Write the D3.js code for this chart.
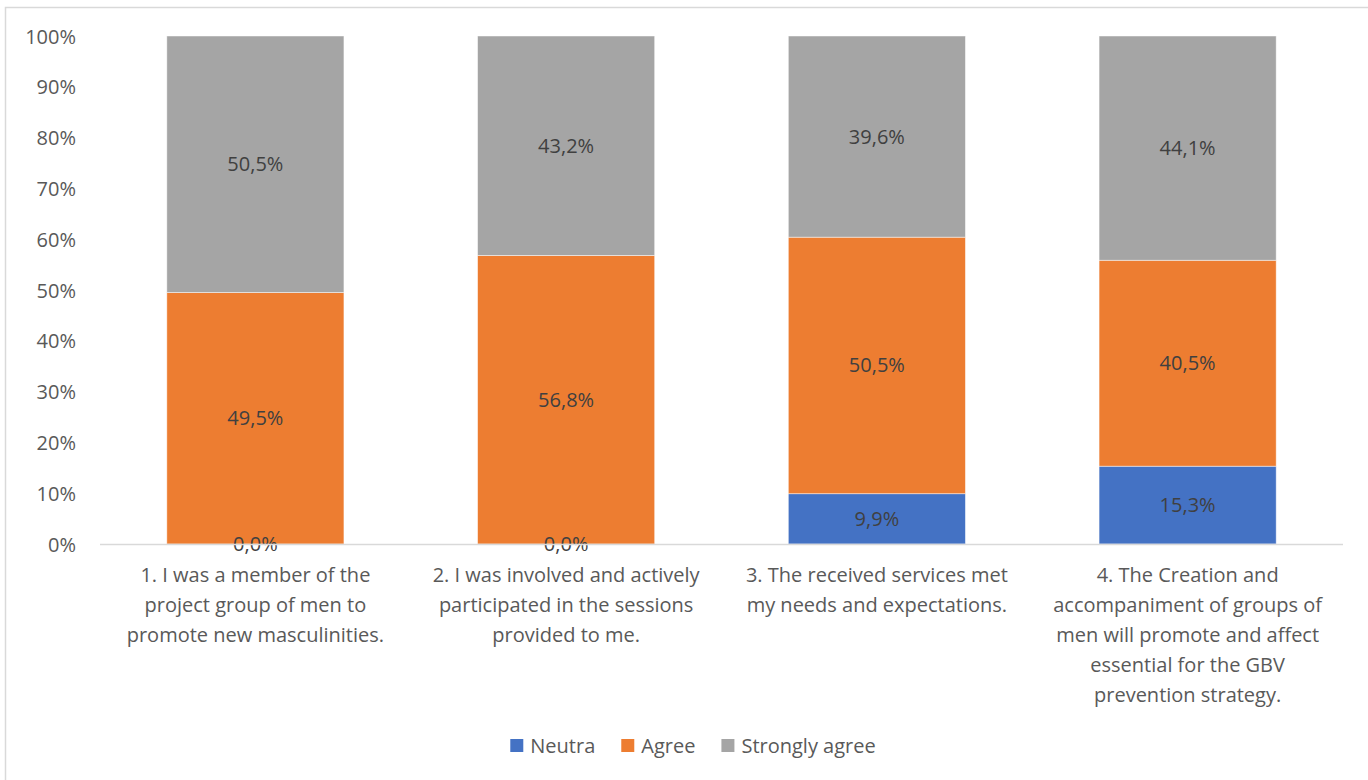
<!DOCTYPE html>
<html><head><meta charset="utf-8">
<script src="https://cdn.jsdelivr.net/npm/d3@7"></script>
<style>html,body{margin:0;padding:0;background:#fff;}svg{display:block;}</style>
</head><body>
<svg id="c" width="1368" height="780"></svg>
<script>
const categories = [
  "1. I was a member of the\nproject group of men to\npromote new masculinities.",
  "2. I was involved and actively\nparticipated in the sessions\nprovided to me.",
  "3. The received services met\nmy needs and expectations.",
  "4. The Creation and\naccompaniment of groups of\nmen will promote and affect\nessential for the GBV\nprevention strategy."
];
const seriesNames = ["Neutra", "Agree", "Strongly agree"];
const neutra = [0.0, 0.0, 9.9, 15.3];
const agree = [49.5, 56.8, 50.5, 40.5];
const stronglyAgree = [50.5, 43.2, 39.6, 44.1];
const colors = ["#4472c4", "#ed7d31", "#a5a5a5"];
const yTicks = [0, 10, 20, 30, 40, 50, 60, 70, 80, 90, 100];

const FONT = "'Open Sans', Lato, sans-serif";
const FS = 20;
const svg = d3.select("#c");

// chart border
svg.append("rect").attr("x", 5.5).attr("y", 7.5).attr("width", 1400).attr("height", 800)
  .attr("fill", "none").attr("stroke", "#d9d9d9").attr("stroke-width", 1.5);

const plot = {left: 100, right: 1343, top: 36, bottom: 544};
const x = d3.scaleBand().domain(d3.range(categories.length)).range([plot.left, plot.right]).paddingInner(0.43).paddingOuter(0.215);
const y = d3.scaleLinear().domain([0, 1]).range([plot.bottom, plot.top]);

const table = categories.map((c, i) => ({i, Neutra: neutra[i], Agree: agree[i], "Strongly agree": stronglyAgree[i]}));
const stack = d3.stack().keys(seriesNames).offset(d3.stackOffsetExpand);
const layers = stack(table);

// y axis
const yAxis = d3.axisLeft(y).tickValues(yTicks.map(t => t / 100)).tickFormat(d => Math.round(d * 100) + "%").tickSize(0).tickPadding(0);
const ya = svg.append("g").attr("transform", `translate(${76},0)`).call(yAxis);
ya.select(".domain").remove();
ya.selectAll("text").attr("font-family", FONT).attr("font-size", FS).attr("fill", "#595959").attr("dy", "0.35em");

// bars
const g = svg.append("g");
layers.forEach((layer, li) => {
  g.selectAll(null).data(layer).enter().append("rect")
    .attr("x", d => x(d.data.i))
    .attr("width", x.bandwidth())
    .attr("y", d => y(d[1]))
    .attr("height", d => y(d[0]) - y(d[1]))
    .attr("fill", colors[li])
    .attr("stroke", "#ffffff").attr("stroke-width", 0.8).attr("stroke-opacity", 0.6);
});

// x axis line
svg.append("line").attr("x1", plot.left).attr("x2", plot.right).attr("y1", plot.bottom + 0.5).attr("y2", plot.bottom + 0.5)
  .attr("stroke", "#d9d9d9").attr("stroke-width", 1.5);

// data labels
const fmt = v => v.toFixed(1).replace(".", ",") + "%";
const raw = [neutra, agree, stronglyAgree];
layers.forEach((layer, li) => {
  g.selectAll(null).data(layer).enter().append("text")
    .attr("x", d => x(d.data.i) + x.bandwidth() / 2)
    .attr("y", d => (y(d[0]) + y(d[1])) / 2)
    .attr("dy", "0.35em")
    .attr("text-anchor", "middle")
    .attr("font-family", FONT).attr("font-size", FS).attr("fill", "#404040")
    .text(d => fmt(raw[li][d.data.i]));
});

// x axis labels
const xAxis = d3.axisBottom(x).tickSize(0).tickFormat(() => "");
const xa = svg.append("g").attr("transform", `translate(0,${plot.bottom})`).call(xAxis);
xa.select(".domain").remove();
xa.selectAll(".tick").each(function(d) {
  const t = d3.select(this).append("text").attr("text-anchor", "middle")
    .attr("font-family", FONT).attr("font-size", FS).attr("fill", "#595959");
  categories[d].split("\n").forEach((ln, k) => {
    t.append("tspan").attr("x", 0).attr("y", 31 + k * 30).attr("dy", "0.35em").text(ln);
  });
});

// legend (centered)
const lg = svg.append("g");
const items = seriesNames.map((s, i) => {
  const it = lg.append("g");
  it.append("rect").attr("x", 0).attr("y", -6.5).attr("width", 13).attr("height", 13).attr("fill", colors[i]);
  const tx = it.append("text").attr("x", 20).attr("y", 0).attr("dy", "0.35em")
    .attr("font-family", FONT).attr("font-size", FS).attr("fill", "#595959").text(s);
  return {it, w: 20 + tx.node().getComputedTextLength()};
});
const gap = 26;
const total = d3.sum(items, d => d.w) + gap * (items.length - 1);
let cx = 693 - total / 2;
items.forEach(d => { d.it.attr("transform", `translate(${cx},745.5)`); cx += d.w + gap; });
</script>
</body></html>
